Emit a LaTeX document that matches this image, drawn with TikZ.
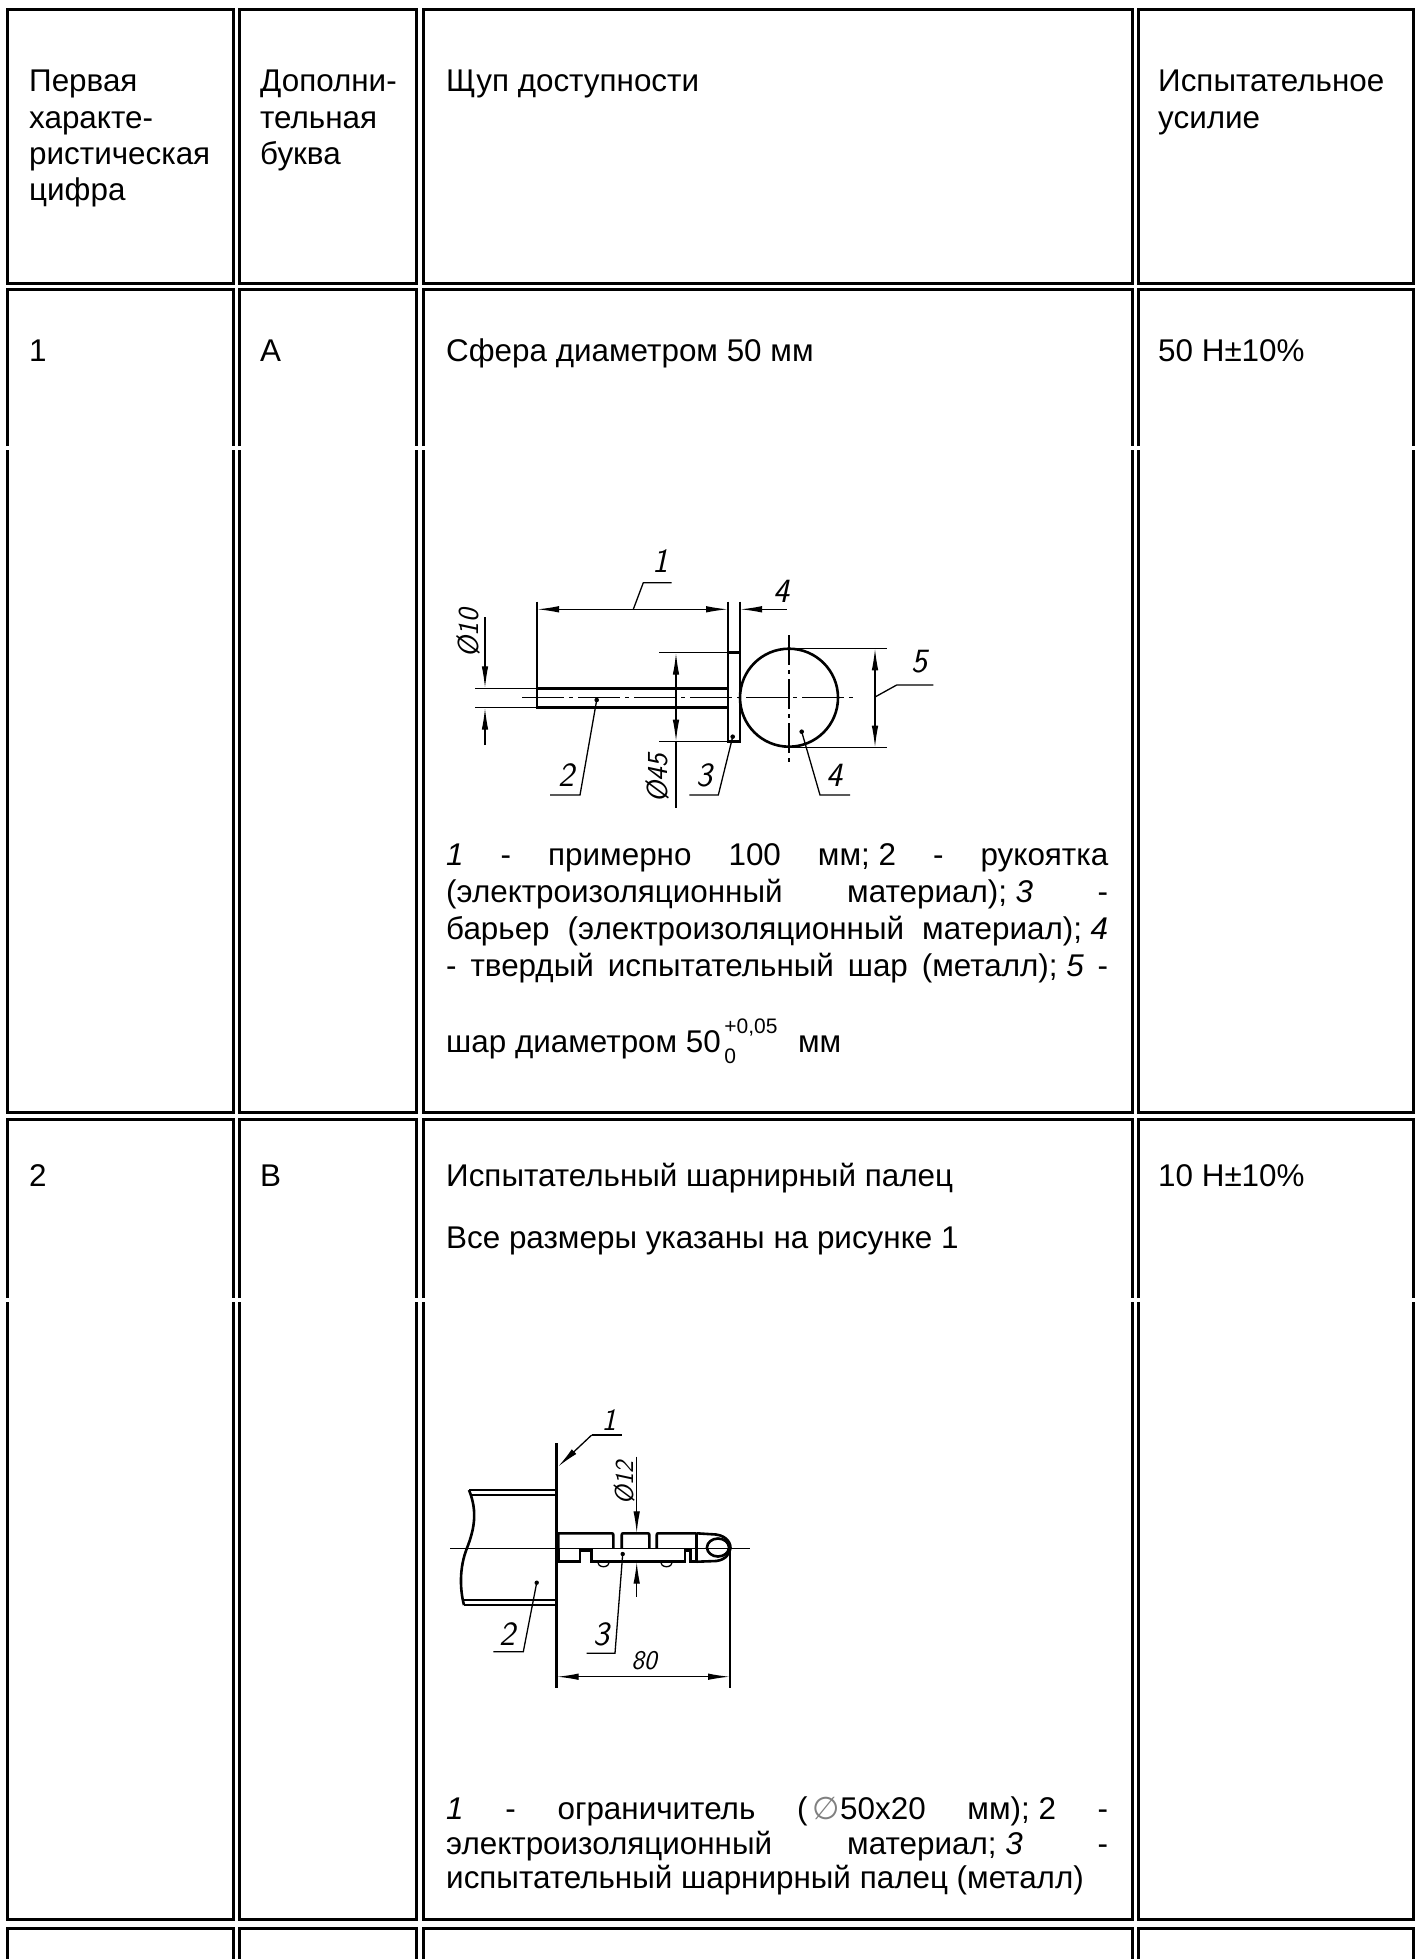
\documentclass[tikz,border=0pt]{standalone}
\usepackage{fontspec}
\setmainfont{Liberation Sans}
\newfontfamily\djv{DejaVu Sans}
\usetikzlibrary{arrows.meta}
\newcommand\sscr{\fontsize{21}{21}\selectfont}
\newcommand\fsp{\hspace{8.7pt}}
\begin{document}
\begin{tikzpicture}[x=1pt,y=-1pt,
  cellline/.style={line width=3pt},
  txt/.style={anchor=base west, inner sep=0pt, font=\fontsize{31.4}{36}\selectfont},
  thk/.style={line width=2.6pt},
  thn/.style={line width=1.3pt},
  arr/.style={-{Latex[length=22pt,width=6.5pt]}},
  lab/.style={inner sep=0pt, font=\fontsize{34}{34}\sffamily\itshape},
  slab/.style={inner sep=0pt, font=\fontsize{29}{29}\sffamily\itshape},
  cline/.style={line width=1.2pt, dash pattern=on 42pt off 5pt on 4pt off 5pt},
]
\fill[white] (0,0) rectangle (1420,1959);
\useasboundingbox (0,0) rectangle (1420,1959);

% ---------------- table cells ----------------
\foreach \L/\R in {7.5/233.5, 239.5/416.5, 423/1132, 1138.5/1413}{
  \draw[cellline] (\L,9.5) rectangle (\R,283);
  \draw[cellline] (\L,446) -- (\L,289.5) -- (\R,289.5) -- (\R,446);
  \draw[cellline] (\L,450) -- (\L,1112) -- (\R,1112) -- (\R,450);
  \draw[cellline] (\L,1298) -- (\L,1119) -- (\R,1119) -- (\R,1298);
  \draw[cellline] (\L,1302) -- (\L,1919.5) -- (\R,1919.5) -- (\R,1302);
  \draw[cellline] (\L,1975) -- (\L,1928) -- (\R,1928) -- (\R,1975);
}

% ---------------- header ----------------
\node[txt] (h1a) at (29,92) {Первая};
\node[txt] (h1b) at (29,128) {характе-};
\node[txt] (h1c) at (29,164) {ристическая};
\node[txt] (h1d) at (29,200) {цифра};
\node[txt] (h2a) at (260,92) {Дополни-};
\node[txt] (h2b) at (260,128) {тельная};
\node[txt] (h2c) at (260,164) {буква};
\node[txt] (h3) at (446,92) {Щуп доступности};
\node[txt] (h4a) at (1158,92) {Испытательное};
\node[txt] (h4b) at (1158,128) {усилие};

% ---------------- row 1 ----------------
\node[txt] (r1a) at (29,361.5) {1};
\node[txt] (r1b) at (260,361.5) {А};
\node[txt] (r1c) at (446,361.5) {Сфера диаметром 50 мм};
\node[txt] (r1d) at (1158,361.5) {50 Н±10\%};

\node[txt] (p1a) at (446,865) {\makebox[662pt][s]{\textit{1} - примерно 100 мм;\fsp 2 - рукоятка}};
\node[txt] (p1b) at (446,902) {\makebox[662pt][s]{(электроизоляционный материал);\fsp\textit{3} -}};
\node[txt] (p1c) at (446,939) {\makebox[662pt][s]{барьер (электроизоляционный материал);\fsp\textit{4}}};
\node[txt] (p1d) at (446,976) {\makebox[662pt][s]{- твердый испытательный шар (металл);\fsp\textit{5} -}};
\node[txt] (p1e) at (446,1052) {шар диаметром 50\makebox[0pt][l]{\raisebox{19pt}{\sscr\,+0,05}}\raisebox{-11pt}{\sscr\,0}\hspace{62pt}мм};

% ---------------- figure 1: sphere probe ----------------
% rod
\draw[thk] (537,688.3) rectangle (728,707.7);
\draw[thn] (475,688.3) -- (537,688.3);
\draw[thn] (475,707.7) -- (537,707.7);
% diameter 10
\draw[thn,arr] (485,617) -- (485,688.3);
\draw[thn,arr] (485,745) -- (485,707.7);
\node[slab,rotate=90] (l10) at (468.5,633) {Ø10};
% dimension 1
\draw[thn] (537,601.7) -- (537,688.3);
\draw[thn] (728,601.7) -- (728,652.7);
\draw[thn] (740,601.7) -- (740,652.7);
\coordinate (m1) at (633.3,609.3);
\draw[thn,arr] (m1) -- (537,609.3);
\draw[thn,arr] (m1) -- (728,609.3);
\draw[thn,arr] (786.7,609.3) -- (740,609.3);
\draw[thn] (m1) -- (643.3,582.7) -- (671.7,582.7);
\node[lab] (l1) at (660,561) {1};
\node[lab] (l4a) at (781,591) {4};
% barrier
\draw[thk] (728,652.7) rectangle (740,741.7);
% diameter 45
\draw[thn] (659,652.7) -- (728,652.7);
\draw[thn] (659,741.7) -- (728,741.7);
\coordinate (m45) at (676,697);
\draw[thn,arr] (m45) -- (676,652.7);
\draw[thn,arr] (m45) -- (676,741.7);
\draw[thn] (676,741.7) -- (676,808);
\node[slab,rotate=90] (l45) at (657,778) {Ø45};
% ball
\draw[thk] (789,697.7) circle (49);
\draw[cline] (522,697.7) -- (853,697.7);
\draw[cline, dash pattern=on 30pt off 5pt on 4pt off 5pt] (789,635) -- (789,763.3);
% dimension 5
\draw[thn] (789,648.3) -- (886.7,648.3);
\draw[thn] (789,747.7) -- (886.7,747.7);
\coordinate (m5) at (875,698);
\draw[thn,arr] (m5) -- (875,648.3);
\draw[thn,arr] (m5) -- (875,747.7);
\draw[thn] (875,697) -- (896.7,685) -- (933.3,685);
\node[lab] (l5) at (919,662) {5};
% leaders 2,3,4
\fill (596.7,700) circle (2.3);
\draw[thn] (596.7,700) -- (580,795) -- (550,795);
\node[lab] (l2) at (566,775) {2};
\fill (732.7,736.7) circle (2.3);
\draw[thn] (732.7,736.7) -- (718.3,795) -- (689.3,795);
\node[lab] (l3) at (704,775) {3};
\fill (801.7,731.7) circle (2.3);
\draw[thn] (801.7,731.7) -- (820,795) -- (850,795);
\node[lab] (l4) at (834,775) {4};

% ---------------- row 2 ----------------
\node[txt] (r2a) at (29,1186) {2};
\node[txt] (r2b) at (260,1186) {В};
\node[txt] (r2c) at (446,1186) {Испытательный шарнирный палец};
\node[txt] (r2e) at (446,1248) {Все размеры указаны на рисунке 1};
\node[txt] (r2d) at (1158,1186) {10 Н±10\%};

\node[txt] (p2a) at (446,1819) {\makebox[662pt][s]{\textit{1} - ограничитель (\,{\djv\color{gray}∅}50x20 мм);\fsp 2 -}};
\node[txt] (p2b) at (446,1854) {\makebox[662pt][s]{электроизоляционный материал;\fsp\textit{3} -}};
\node[txt] (p2c) at (446,1888) {испытательный шарнирный палец (металл)};

% ---------------- figure 2: jointed finger ----------------
% limiter face
\draw[thk] (556.7,1443.3) -- (556.7,1688.3);
% leader 1 with arrow
\draw[thn,arr] (591.7,1435) -- (558,1466.7);
\draw[thn] (591.7,1435) -- (621.7,1435);
\node[lab,font=\fontsize{31}{31}\sffamily\itshape] (f1) at (609,1420) {1};
% handle (insulating material)
\draw[thk] (469,1490) -- (555,1490);
\draw[thn] (470,1495) -- (555,1495);
\draw[thn] (464,1600) -- (555,1600);
\draw[thk] (464,1605) -- (555,1605);
\draw[thk] (469,1490) .. controls (478,1512) and (474,1530) .. (467,1548) .. controls (459,1568) and (460,1590) .. (464,1605);
% axis
\draw[thn] (450,1548.3) -- (750,1548.3);
% finger outline (upper half)
\draw[thk] (558.3,1548.3) -- (558.3,1533.3) -- (610,1533.3) .. controls (613.3,1533.3) .. (613.3,1537) -- (613.3,1548.3);
\draw[thk] (621.7,1548.3) -- (621.7,1537) .. controls (621.7,1533.3) .. (625,1533.3) -- (646,1533.3) .. controls (649.3,1533.3) .. (649.3,1537) -- (649.3,1548.3);
\draw[thk] (656.7,1548.3) -- (656.7,1537) .. controls (656.7,1533.3) .. (660,1533.3) -- (696.7,1533.3);
% finger outline (lower half)
\draw[thk] (558.3,1548.3) -- (558.3,1561.7) -- (580,1561.7) -- (580,1550.5) -- (591.7,1550.5) -- (591.7,1561.7) -- (685,1561.7) -- (685,1550.5) -- (690.7,1550.5) -- (690.7,1561.7) -- (696.7,1561.7);
\draw[thn] (613.3,1548.3) -- (621.7,1548.3);
\draw[thn] (649.3,1548.3) -- (656.7,1548.3);
% small pins
\draw[thn] (597.5,1561.7) arc[start angle=180, end angle=360, x radius=6, y radius=-5];
\draw[thn] (660.5,1561.7) arc[start angle=180, end angle=360, x radius=6, y radius=-5];
% tip
\draw[thk] (696.7,1533.3) -- (696.7,1561.7);
\draw[thk] (696.7,1533.3) -- (716,1534.5) .. controls (728,1536) and (731,1545) .. (730.5,1548) .. controls (730,1553) and (726,1560) .. (716,1561) -- (696.7,1561.7);
\draw[thk] (718,1547.5) ellipse (11 and 9);
% diameter 12
\draw[thn,arr] (636.7,1456.7) -- (636.7,1533.3);
\draw[thn,arr] (636.7,1596.7) -- (636.7,1561.7);
\node[slab,font=\fontsize{26}{26}\sffamily\itshape,rotate=90] (f12) at (624,1482.5) {Ø12};
% leader 2
\fill (536.7,1582.7) circle (2.2);
\draw[thn] (536.7,1582.7) -- (523.3,1651.7) -- (493.3,1651.7);
\node[lab] (f2) at (507,1634) {2};
% leader 3
\fill (622.7,1554) circle (2.2);
\draw[thn] (622.7,1554) -- (615,1653.3) -- (586.7,1653.3);
\node[lab] (f3) at (601.7,1634) {3};
% dimension 80
\draw[thn] (730,1550) -- (730,1688.3);
\coordinate (m80) at (643,1676.7);
\draw[thn,arr] (m80) -- (556.7,1676.7);
\draw[thn,arr] (m80) -- (730,1676.7);
\node[slab,font=\fontsize{27}{27}\sffamily\itshape] (f80) at (644,1661) {80};
\end{tikzpicture}
\end{document}
